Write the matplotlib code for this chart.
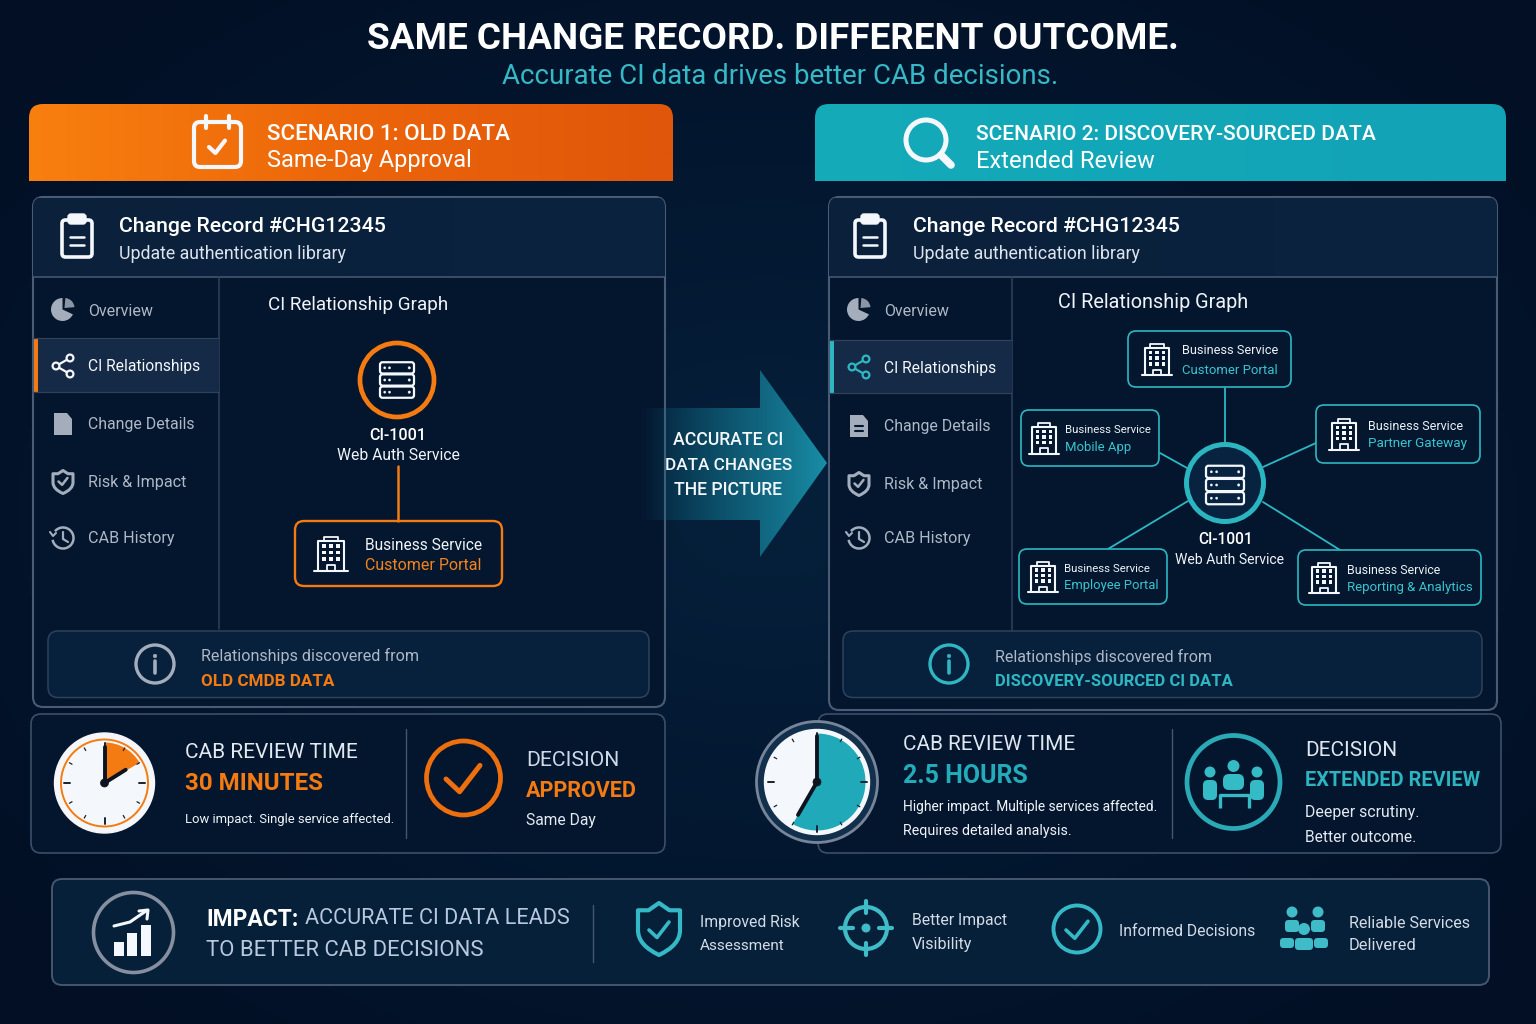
import numpy as np
import matplotlib
matplotlib.use("Agg")
import matplotlib.pyplot as plt
from matplotlib.colors import LinearSegmentedColormap
from matplotlib.patches import Circle, FancyBboxPatch, PathPatch, Polygon, Rectangle, Wedge, Arc
from matplotlib.path import Path

TITLE = "SAME CHANGE RECORD. DIFFERENT OUTCOME."
SUBTITLE = "Accurate CI data drives better CAB decisions."
NAV_LABELS = ["Overview", "CI Relationships", "Change Details", "Risk & Impact", "CAB History"]
SERVICES_RIGHT = ["Customer Portal", "Mobile App", "Partner Gateway", "Employee Portal", "Reporting & Analytics"]
ARROW_LINES = ["ACCURATE CI", "DATA CHANGES", "THE PICTURE"]
IMPACT_ITEMS = [["Improved Risk", "Assessment"], ["Better Impact", "Visibility"], ["Informed Decisions"], ["Reliable Services", "Delivered"]]
# clock sweep / hand angles in degrees clockwise from 12
OLD_SWEEP = 60
OLD_HOUR_HAND = 58
NEW_SWEEP = 210
NEW_HOUR_HAND = 210

ORANGE = "#f47a12"
TEAL = "#2fb6c2"
GRAY = "#a3adbb"
NAVTXT = "#aeb8c6"
WHITE = "#f4f7fb"
EDGE = "#3c4e68"
NARROW = ["Liberation Sans Narrow", "Roboto", "DejaVu Sans"]

plt.rcParams["font.family"] = ["Roboto", "DejaVu Sans"]
fig = plt.figure(figsize=(15.36, 10.24), dpi=100)
ax = fig.add_axes([0, 0, 1, 1])
ax.set_xlim(0, 1536)
ax.set_ylim(1024, 0)
ax.axis("off")
renderer = fig.canvas.get_renderer()


def rbox(x0, y0, x1, y1, r=8, fc="none", ec=EDGE, lw=1.2, z=2):
    p = FancyBboxPatch((x0, y0), x1 - x0, y1 - y0, boxstyle=f"round,pad=0,rounding_size={r}",
                       fc=fc, ec=ec, lw=lw, zorder=z)
    ax.add_patch(p)
    return p


def txt(x, y, s, w, color=WHITE, weight="normal", ha="left", narrow=False):
    # font size is fitted so the string spans w pixels, same as the reference
    # strings without descenders sit a bit high with va=center
    dy = 1 if any(c in s for c in "gjpqy") else 2
    t = ax.text(x, y + dy, s, fontsize=12, color=color, fontweight=weight, ha=ha, va="center", zorder=10)
    if narrow:
        t.set_fontfamily(NARROW)
    t.set_fontsize(12 * w / t.get_window_extent(renderer).width)


def line(xs, ys, color=WHITE, lw=1.5, z=6, cap="round", **kw):
    ax.plot(xs, ys, color=color, lw=lw, solid_capstyle=cap, zorder=z, **kw)


def circ(x, y, r, fc="none", ec=WHITE, lw=1.5, z=6):
    ax.add_patch(Circle((x, y), r, fc=fc, ec=ec, lw=lw, zorder=z))


def gradient(x0, y0, x1, y1, colors, clip=None, vertical=False, z=1):
    g = np.linspace(0, 1, 256)
    g = g[:, None] if vertical else g[None, :]
    cmap = LinearSegmentedColormap.from_list("g", colors)
    im = ax.imshow(g, extent=[x0, x1, y1, y0], cmap=cmap, aspect="auto", zorder=z, vmin=0, vmax=1)
    if clip is not None:
        im.set_clip_path(clip)
    return im


def server(cx, cy, w, h, color=WHITE, lw=1.6):
    rh = h / 3.2
    for i in (-1, 0, 1):
        yy = cy + i * rh * 1.08
        rbox(cx - w / 2, yy - rh / 2, cx + w / 2, yy + rh / 2, r=2.5, ec=color, lw=lw, z=7)
        for dx in (-w * 0.36, -w * 0.22):
            circ(cx + dx, yy, 1.1, fc=color, ec=color, lw=0.3, z=7)
        circ(cx + w * 0.36, yy, 1.2, fc=color, ec=color, lw=0.3, z=7)


def building(cx, cy, s=1.0, color=WHITE):
    w, h = 22 * s, 29 * s
    top = cy - h / 2
    bot = cy + h / 2
    line([cx - w / 2, cx - w / 2, cx + w / 2, cx + w / 2], [bot, top + 4 * s, top + 4 * s, bot], color, 1.5)
    line([cx - w * 0.27, cx - w * 0.27, cx + w * 0.27, cx + w * 0.27], [top + 4 * s, top, top, top + 4 * s], color, 1.3)
    line([cx - w / 2 - 3 * s, cx + w / 2 + 3 * s], [bot, bot], color, 1.5)
    for row in range(3):
        for col in (-1, 0, 1):
            ax.add_patch(Rectangle((cx + col * 6 * s - 1.6 * s, top + 8 * s + row * 5.2 * s - 1.6 * s), 3.2 * s, 3.2 * s,
                                   fc=color, ec="none", zorder=7))
    line([cx - 3.5 * s, cx - 3.5 * s, cx + 3.5 * s, cx + 3.5 * s], [bot, bot - 5 * s, bot - 5 * s, bot], color, 1.3)


def clipboard(cx, cy):
    rbox(cx - 15, cy - 16, cx + 15, cy + 21, r=3.5, ec=WHITE, lw=2.6, z=7)
    rbox(cx - 9, cy - 22, cx + 9, cy - 12, r=3, fc=WHITE, ec=WHITE, lw=1, z=8)
    line([cx - 7, cx + 7], [cy + 1, cy + 1], WHITE, 1.8)
    line([cx - 7, cx + 7], [cy + 9, cy + 9], WHITE, 1.8)


def check(cx, cy, s, color, lw):
    line([cx - s, cx - s * 0.2, cx + s], [cy, cy + s * 0.75, cy - s * 0.8], color, lw)


def shield(cx, cy, w, h, color, lw=2.0, fill="none"):
    v = [(0, -1), (0.5, -0.72), (1, -0.72), (1, 0.05), (1, 0.62), (0, 1), (-1, 0.62), (-1, 0.05), (-1, -0.72), (-0.5, -0.72), (0, -1)]
    c = [Path.MOVETO, Path.LINETO, Path.LINETO, Path.LINETO, Path.CURVE3, Path.CURVE3, Path.CURVE3, Path.CURVE3, Path.LINETO, Path.LINETO, Path.CLOSEPOLY]
    pts = [(cx + a * w / 2, cy + b * h / 2) for a, b in v]
    ax.add_patch(PathPatch(Path(pts, c), fc=fill, ec=color, lw=lw, zorder=6, joinstyle="round"))


def share(cx, cy, color):
    a, b, c = (cx - 7, cy), (cx + 7, cy - 8), (cx + 7, cy + 8)
    for p in (b, c):
        line([a[0], p[0]], [a[1], p[1]], color, 1.6)
    for p in (a, b, c):
        circ(p[0], p[1], 3.4, fc="#152a46", ec=color, lw=1.6, z=7)


def pie(cx, cy, color):
    # y axis runs downward so wedge angles go clockwise on screen
    ax.add_patch(Wedge((cx - 0.5, cy + 0.5), 11.5, 25, 270, fc=color, ec="none", zorder=6))
    ax.add_patch(Wedge((cx + 1.5, cy - 1), 10, -85, -5, fc=color, ec="none", alpha=0.85, zorder=6))


def doc(cx, cy, color, lined):
    ax.add_patch(Polygon([(cx - 9, cy - 11), (cx + 4, cy - 11), (cx + 9, cy - 5), (cx + 9, cy + 11), (cx - 9, cy + 11)],
                         fc=color, ec="none", zorder=6))
    if lined:
        line([cx - 4, cx + 4], [cy, cy], "#04162e", 1.5, z=7)
        line([cx - 4, cx + 4], [cy + 5, cy + 5], "#04162e", 1.5, z=7)


def history(cx, cy, color):
    ax.add_patch(Arc((cx, cy), 21, 21, theta1=-140, theta2=170, color=color, lw=1.8, zorder=6))
    line([cx, cx, cx + 5], [cy - 6, cy + 1, cy + 4], color, 1.6)
    line([cx - 13, cx - 10, cx - 7], [cy - 6, cy - 2, cy - 5], color, 1.5)


def info(cx, cy, color):
    circ(cx, cy, 19, ec=color, lw=2.4)
    line([cx, cx], [cy - 3, cy + 9], color, 2.6)
    circ(cx, cy - 8, 1.8, fc=color, ec=color, lw=0.4)


def nav(xi, xt, ys, active_color, lined):
    widths = [65, 112, 106, 98, 86]
    for i, (label, y, w) in enumerate(zip(NAV_LABELS, ys, widths)):
        txt(xt, y, label, w, WHITE if i == 1 else NAVTXT, narrow=True)
        if i == 0:
            pie(xi, y, GRAY)
        elif i == 1:
            share(xi, y, active_color)
        elif i == 2:
            doc(xi, y, GRAY, lined)
        elif i == 3:
            shield(xi, y, 20, 23, GRAY, 2.2)
            check(xi, y - 0.5, 4.5, GRAY, 1.8)
        else:
            history(xi, y, GRAY)


def clock(cx, cy, r_out, r_ring, sweep, hour, color, hand_h, hand_m, rim, tick_in):
    circ(cx, cy, r_out, fc=rim, ec=rim, lw=1, z=5)
    if r_ring:
        circ(cx, cy, r_ring, fc=WHITE, ec=color, lw=1.4, z=5)
        rr = r_ring
    else:
        rr = r_out
    ax.add_patch(Wedge((cx, cy), rr - tick_in, -90, -90 + sweep, fc=color, ec="none", zorder=6))
    for k in range(12):
        a = np.deg2rad(k * 30)
        l0 = rr - (9 if k % 3 == 0 else 6)
        l1 = rr - 3
        line([cx + l0 * np.sin(a), cx + l1 * np.sin(a)], [cy - l0 * np.cos(a), cy - l1 * np.cos(a)], "#1a2230",
             1.4 if k % 3 == 0 else 0.9, z=7)
    line([cx, cx], [cy, cy - hand_m], "#0c1420", 2.8, z=8)
    a = np.deg2rad(hour)
    line([cx, cx + hand_h * np.sin(a)], [cy, cy - hand_h * np.cos(a)], "#0c1420", 2.8, z=8)
    circ(cx, cy, 4, fc="#0c1420", ec="#0c1420", lw=0.5, z=9)


# background
yy, xx = np.mgrid[0:1024:256j, 0:1536:384j]
d = np.sqrt(((xx - 768) / 1000) ** 2 + ((yy - 512) / 700) ** 2)
bg_cmap = LinearSegmentedColormap.from_list("bg", ["#06203b", "#031730", "#020f24"])
ax.imshow(np.clip(d, 0, 1), extent=[0, 1536, 1024, 0], cmap=bg_cmap, aspect="auto", zorder=0, vmin=0, vmax=1)
ax.set_xlim(0, 1536)
ax.set_ylim(1024, 0)

# title
txt(772.5, 37, TITLE, 809, "#ffffff", "bold", ha="center")
txt(780, 75, SUBTITLE, 555, "#35b9c6", ha="center")

# banners
clip_l = rbox(29, 104, 673, 215, r=14, fc="none", ec="none", z=0)
gradient(29, 104, 673, 181, ["#f8800f", "#ec650a", "#e0560a"], clip=clip_l)
clip_r = rbox(815, 104, 1506, 215, r=14, fc="none", ec="none", z=0)
gradient(815, 104, 1506, 181, ["#15abb9", "#12a7b8", "#12a3b6"], clip=clip_r)
txt(267, 132, "SCENARIO 1: OLD DATA", 243, "#ffffff", "medium")
txt(267, 159, "Same-Day Approval", 204, "#ffffff")
txt(976, 132, "SCENARIO 2: DISCOVERY-SOURCED DATA", 400, "#ffffff", "medium")
txt(976, 159, "Extended Review", 177, "#ffffff")
rbox(194, 122, 241, 167, r=6, ec=WHITE, lw=3)
line([206, 206], [116, 128], WHITE, 3)
line([229, 229], [116, 128], WHITE, 3)
check(217, 147, 8, WHITE, 3)
circ(926, 140, 20, ec=WHITE, lw=3.6)
line([941, 951], [155, 165], WHITE, 5.5)

# panels
for x0, x1, y1, sx, ay0, ay1, acol, ib0, ib1 in [(33, 665, 707, 219, 338, 392, ORANGE, 48, 649),
                                                 (829, 1497, 710, 1012, 340, 393, TEAL, 843, 1482)]:
    rbox(x0, 197, x1, y1, r=10, fc="#04162e", ec="#4a5b74", lw=1.5, z=2)
    clip = rbox(x0, 197, x1, 300, r=10, fc="none", ec="none", z=1)
    gradient(x0, 198, x1, 277, ["#0a203b", "#0b233f"], clip=clip, z=2.1)
    line([x0, x1], [277, 277], "#4a5b74", 1.1, z=3)
    line([sx, sx], [277, y1 - 78], "#2f415b", 1.1, z=3)
    ax.add_patch(Rectangle((x0 + 1, ay0), sx - x0 - 1, ay1 - ay0, fc="#152a46", ec="none", zorder=3))
    ax.add_patch(Rectangle((x0 + 1, ay0), 3.5, ay1 - ay0, fc=acol, ec="none", zorder=4))
    line([x0, sx], [ay0, ay0], "#2f415b", 0.9, z=4)
    line([x0, sx], [ay1, ay1], "#2f415b", 0.9, z=4)
    rbox(ib0, 631, ib1, 697.5, r=10, fc="#07203c", ec="#2f415b", lw=1.1, z=4)

clipboard(77, 236)
clipboard(870, 236)
for x in (119, 913):
    txt(x, 226, "Change Record #CHG12345", 267, "#ffffff", "medium")
    txt(x, 253, "Update authentication library", 226, "#dde4ee", narrow=True)
nav(63, 88, [309, 366, 424, 482, 538], WHITE, False)
nav(859, 884, [309, 367, 426, 484, 538], TEAL, True)

# left graph
txt(268, 304, "CI Relationship Graph", 181, "#f0f4f9", narrow=True)
circ(397, 380, 37, fc="#04162e", ec=ORANGE, lw=3.4)
server(397, 380, 34, 36)
txt(397.5, 433, "CI-1001", 57, "#ffffff", "medium", ha="center")
txt(398, 454, "Web Auth Service", 122, "#f0f4f9", ha="center", narrow=True)
line([398, 398], [466, 521], ORANGE, 1.8)
rbox(295, 521, 502, 586, r=9, fc="#04172f", ec=ORANGE, lw=1.7, z=5)
building(331, 554, 1.2)
txt(365, 543, "Business Service", 117, "#f0f4f9", narrow=True)
txt(365, 564, "Customer Portal", 116, "#f2841c", narrow=True)

# right graph
txt(1058, 302, "CI Relationship Graph", 190, "#f0f4f9", narrow=True)
links_x = [[1225, 1225], [1160, 1187], [1263, 1316], [1188, 1108], [1263, 1340]]
links_y = [[388, 443], [453, 468], [467, 443], [501, 549], [502, 550]]
for xs, ys in zip(links_x, links_y):
    line(xs, ys, "#2bb8c4", 1.3, z=4)
circ(1225, 483, 38.5, fc="#08233f", ec="#2ab5c0", lw=3.6)
server(1225, 485, 38, 39)
txt(1225.5, 538, "CI-1001", 55, "#ffffff", "medium", ha="center")
txt(1229.5, 558, "Web Auth Service", 109, "#f0f4f9", ha="center", narrow=True)
boxes = [(1128, 331, 1291, 387, 1157, 1182, 349, 369, 1.1, 96, 95),
         (1021, 410, 1159, 466, 1044, 1065, 428, 447, 1.05, 86, 66),
         (1316, 405, 1480, 463, 1344, 1368, 424, 443, 1.05, 94, 99),
         (1019, 549, 1167, 604, 1043, 1064, 567, 585, 1.05, 86, 94),
         (1298, 550, 1481, 605, 1324, 1347, 568, 587, 1.05, 93, 125)]
for name, (x0, y0, x1, y1, bx, tx, ty0, ty1, s, w0, w1) in zip(SERVICES_RIGHT, boxes):
    rbox(x0, y0, x1, y1, r=8, fc="#04172f", ec="#2bb8c4", lw=1.2, z=5)
    building(bx, (y0 + y1) / 2 + 0.5, s)
    txt(tx, ty0, "Business Service", w0, "#eef2f7", narrow=True)
    txt(tx, ty1, name, w1, "#38c4cf", narrow=True)

# info rows
info(155, 664, GRAY)
txt(201, 655, "Relationships discovered from", 217, NAVTXT, narrow=True)
txt(201, 679, "OLD CMDB DATA", 133, ORANGE, "bold", narrow=True)
info(949, 664, TEAL)
txt(995, 656, "Relationships discovered from", 216, NAVTXT, narrow=True)
txt(995, 679, "DISCOVERY-SOURCED CI DATA", 238, TEAL, "bold", narrow=True)

# arrow
arrow_poly = Polygon([(640, 408), (760, 408), (760, 370), (827, 463), (760, 557), (760, 520), (640, 520)], fc="none", ec="none")
ax.add_patch(arrow_poly)
arrow_cmap = LinearSegmentedColormap.from_list("ar", [(0.05, 0.45, 0.55, 0.0), (0.07, 0.42, 0.52, 0.75), (0.10, 0.56, 0.66, 1.0)])
gradient(640, 370, 827, 557, arrow_cmap(np.linspace(0, 1, 8)), clip=arrow_poly, z=3)
for label, y, w in zip(ARROW_LINES, [438, 463, 488], [111, 128, 109]):
    txt(728.5, y, label, w, "#f4f7fb", "medium", ha="center", narrow=True)

# stats left
rbox(31, 714, 665, 853, r=10, fc="#04162e", ec="#3c4e68", lw=1.2)
line([406, 406], [729, 838], "#45566e", 1.0)
clock(104.5, 783, 50, 43.5, OLD_SWEEP, OLD_HOUR_HAND, ORANGE, 25, 36, "#f4f6f9", 3)
txt(185, 750, "CAB REVIEW TIME", 172, "#e3e9f1", narrow=True)
txt(185, 782, "30 MINUTES", 138, ORANGE, "bold", narrow=True)
txt(185, 819, "Low impact. Single service affected.", 209, "#f0f4f9", narrow=True)
circ(463.5, 778, 37, ec="#ee6f0d", lw=3.4)
check(463, 779, 17, "#ee6f0d", 3.6)
txt(526, 758, "DECISION", 93, "#cfd8e6", narrow=True)
txt(526, 789, "APPROVED", 111, ORANGE, "bold", narrow=True)
txt(526, 820, "Same Day", 70, "#e3e9f1", narrow=True)

# stats right
rbox(818, 714, 1501, 853, r=10, fc="#04162e", ec="#3c4e68", lw=1.2)
line([1172, 1172], [729, 838], "#45566e", 1.0)
circ(817, 782, 60.5, fc="#12304c", ec="#77859a", lw=2, z=4)
clock(817, 782, 52.5, 0, NEW_SWEEP, NEW_HOUR_HAND, "#1fa9b9", 38, 46, WHITE, 4)
txt(903, 743, "CAB REVIEW TIME", 171, "#dfe6f0", narrow=True)
txt(903, 774, "2.5 HOURS", 125, "#22abba", "bold", narrow=True)
txt(903, 806, "Higher impact. Multiple services affected.", 254, "#f0f4f9", narrow=True)
txt(903, 830, "Requires detailed analysis.", 168, "#f0f4f9", narrow=True)
circ(1233.5, 782, 46.5, ec="#2aaab7", lw=3.4)
PEOPLE = "#34bbc6"
circ(1233.5, 766, 6, fc=PEOPLE, ec="none", lw=0)
circ(1210, 772, 5.5, fc=PEOPLE, ec="none", lw=0)
circ(1257, 772, 5.5, fc=PEOPLE, ec="none", lw=0)
rbox(1203, 780, 1217, 800, r=5, fc=PEOPLE, ec="none", lw=0, z=6)
rbox(1250, 780, 1264, 800, r=5, fc=PEOPLE, ec="none", lw=0, z=6)
rbox(1223, 774, 1244, 790, r=6, fc=PEOPLE, ec="none", lw=0, z=6)
line([1220, 1220, 1249, 1249], [808, 795, 795, 808], PEOPLE, 2.4, cap="butt")
txt(1305, 749, "DECISION", 91, "#dfe6f0", narrow=True)
txt(1305, 779, "EXTENDED REVIEW", 174, "#2cb4c1", "bold", narrow=True)
txt(1305, 811, "Deeper scrutiny.", 114, "#e3e9f1", narrow=True)
txt(1305, 835, "Better outcome.", 111, "#e3e9f1", narrow=True)

# impact bar
rbox(52, 879, 1489, 985, r=10, fc="#062039", ec="#45566e", lw=1.4)
line([593, 593], [905, 962], "#45566e", 1.0)
circ(133.5, 932.5, 40, ec="#868fa0", lw=2.6)
for bx, top in ((114, 942), (127, 933), (141, 925)):
    ax.add_patch(Rectangle((bx, top), 10, 956 - top, fc=WHITE, ec="none", zorder=7))
line([114, 130, 146], [926, 922, 911], WHITE, 2.2)
line([139, 148, 147], [911, 910, 919], WHITE, 2.2)
txt(206, 917, "IMPACT:", 92, "#ffffff", "bold", narrow=True)
txt(305, 917, "ACCURATE CI DATA LEADS", 263, "#b8c9de", narrow=True)
txt(206, 948, "TO BETTER CAB DECISIONS", 275, "#b8c9de", narrow=True)

shield(659, 929, 42, 52, "#35b9c6", 3)
check(659, 930, 10, "#35b9c6", 2.6)
txt(700, 921, IMPACT_ITEMS[0][0], 99, "#d3dbe6", narrow=True)
txt(700, 944, IMPACT_ITEMS[0][1], 85, "#d3dbe6", narrow=True)

circ(866, 928, 21, ec="#3fbcc7", lw=3)
circ(866, 928, 4.5, fc="#3fbcc7", ec="none", lw=0)
for xs, ys in (([866, 866], [901, 913]), ([866, 866], [943, 955]), ([840, 853], [928, 928]), ([879, 892], [928, 928])):
    line(xs, ys, "#3fbcc7", 3)
txt(912, 920, IMPACT_ITEMS[1][0], 95, "#d3dbe6", narrow=True)
txt(912, 943, IMPACT_ITEMS[1][1], 60, "#d3dbe6", narrow=True)

circ(1077, 929, 23.5, ec="#35b9c6", lw=2.8)
check(1077, 930, 11, "#35b9c6", 2.6)
txt(1119, 930, IMPACT_ITEMS[2][0], 136, "#d3dbe6", narrow=True)

for cx, cy, r in ((1292, 912, 5.5), (1318, 912, 5.5), (1304, 929, 6)):
    circ(cx, cy, r, fc="#3fbcc7", ec="none", lw=0, z=7)
for x0, x1, y0, y1 in ((1285, 1299, 920, 932), (1311, 1325, 920, 932), (1280, 1294, 938, 948), (1314, 1328, 938, 948), (1295, 1313, 938, 950)):
    rbox(x0, y0, x1, y1, r=3.5, fc="#3fbcc7", ec="none", lw=0, z=6)
txt(1349, 921, IMPACT_ITEMS[3][0], 121, "#d3dbe6", narrow=True)
txt(1349, 944, IMPACT_ITEMS[3][1], 67, "#d3dbe6", narrow=True)

fig.savefig("out.png", dpi=100)
